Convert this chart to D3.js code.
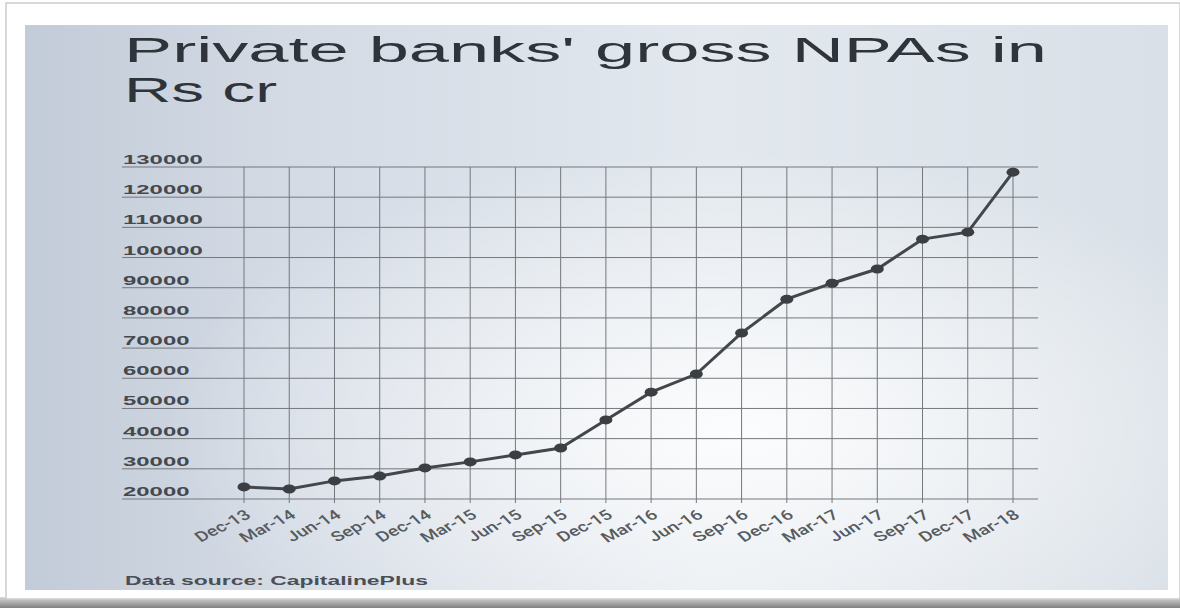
<!DOCTYPE html>
<html>
<head>
<meta charset="utf-8">
<script src="https://cdn.jsdelivr.net/npm/d3@7"></script>
<style>
  body { margin: 0; background: #fff; }
  svg { display: block; }
</style>
</head>
<body>
<svg id="chart" width="1180" height="608"></svg>
<script>
// quarters and gross NPA values (Rs cr)
var quarters = ["Dec-13", "Mar-14", "Jun-14", "Sep-14", "Dec-14", "Mar-15", "Jun-15", "Sep-15",
                "Dec-15", "Mar-16", "Jun-16", "Sep-16", "Dec-16", "Mar-17", "Jun-17", "Sep-17",
                "Dec-17", "Mar-18"];
var npa = [24000, 23300, 26000, 27600, 30300, 32300, 34600, 36900,
           46200, 55400, 61400, 75000, 86200, 91500, 96200, 106100,
           108400, 128300];
var yTicks = [20000, 30000, 40000, 50000, 60000, 70000, 80000, 90000,
              100000, 110000, 120000, 130000];

var titleLines = ["Private banks' gross NPAs in", "Rs cr"];
var source = "Data source: CapitalinePlus";

var svg = d3.select("#chart");
var defs = svg.append("defs");

// photo background
var lg = defs.append("linearGradient").attr("id", "bg").attr("x1", 0).attr("x2", 1).attr("y1", 0).attr("y2", 0);
lg.append("stop").attr("offset", "0%").attr("stop-color", "#c2cbd8");
lg.append("stop").attr("offset", "22%").attr("stop-color", "#d3dae4");
lg.append("stop").attr("offset", "60%").attr("stop-color", "#e2e8ee");
lg.append("stop").attr("offset", "100%").attr("stop-color", "#d9e0e7");
var rg = defs.append("radialGradient").attr("id", "glow").attr("cx", 0.62).attr("cy", 0.72).attr("r", 0.5);
rg.append("stop").attr("offset", "0%").attr("stop-color", "#ffffff").attr("stop-opacity", 0.9);
rg.append("stop").attr("offset", "100%").attr("stop-color", "#ffffff").attr("stop-opacity", 0);
var sh = defs.append("linearGradient").attr("id", "shadow").attr("x1", 0).attr("x2", 0).attr("y1", 0).attr("y2", 1);
sh.append("stop").attr("offset", "0%").attr("stop-color", "#d8d8d8");
sh.append("stop").attr("offset", "100%").attr("stop-color", "#808080");

// card frame
svg.append("rect").attr("x", 0).attr("y", 597).attr("width", 1180).attr("height", 11).attr("fill", "url(#shadow)");
svg.append("rect").attr("x", 6).attr("y", 3).attr("width", 1174).attr("height", 596)
    .attr("fill", "#fff").attr("stroke", "#cccccc").attr("stroke-width", 1.5);
svg.append("rect").attr("x", 25).attr("y", 25).attr("width", 1143).attr("height", 565).attr("fill", "url(#bg)");
svg.append("rect").attr("x", 25).attr("y", 25).attr("width", 1143).attr("height", 565).attr("fill", "url(#glow)");

// title
svg.selectAll(".title")
    .data(titleLines)
    .enter()
    .append("text")
    .attr("x", 124)
    .attr("y", (d, i) => i == 0 ? 62 : 101.5)
    .attr("textLength", (d, i) => i == 0 ? 923 : 153)
    .attr("lengthAdjust", "spacingAndGlyphs")
    .attr("font-family", "'Liberation Sans', Arial, sans-serif")
    .attr("font-size", 35)
    .attr("fill", "#2f343a")
    .text(d => d);

var x = d3.scalePoint().domain(quarters).range([244, 1013]);
var y = d3.scaleLinear().domain([20000, 130000]).range([499, 167]);

// grid
svg.append("g")
    .selectAll("line")
    .data(yTicks)
    .enter()
    .append("line")
    .attr("x1", 122).attr("x2", 1038)
    .attr("y1", d => y(d)).attr("y2", d => y(d))
    .attr("stroke", "#74787d").attr("stroke-width", 1);

svg.append("g")
    .selectAll("line")
    .data(quarters)
    .enter()
    .append("line")
    .attr("x1", d => x(d)).attr("x2", d => x(d))
    .attr("y1", y(130000)).attr("y2", y(20000) + 4)
    .attr("stroke", "#74787d").attr("stroke-width", 1);

// y labels
svg.append("g")
    .selectAll("text")
    .data(yTicks)
    .enter()
    .append("text")
    .attr("x", 123)
    .attr("y", d => y(d) - 3)
    .attr("textLength", d => String(d).length * 13.3)
    .attr("lengthAdjust", "spacingAndGlyphs")
    .attr("font-family", "'Liberation Sans', Arial, sans-serif")
    .attr("font-weight", "bold")
    .attr("font-size", 13)
    .attr("fill", "#45494e")
    .text(d => d);

// x labels
svg.append("g")
    .selectAll("text")
    .data(quarters)
    .enter()
    .append("text")
    .attr("transform", d => "translate(" + (x(d) + 8) + "," + 517 + ") scale(1.4,1) rotate(-35)")
    .attr("text-anchor", "end")
    .attr("font-family", "Roboto, 'Liberation Sans', sans-serif")
    .attr("font-weight", 500)
    .attr("font-size", 14)
    .attr("fill", "#565b60")
    .text(d => d);

// series
var line = d3.line()
    .x((d, i) => x(quarters[i]))
    .y(d => y(d));

svg.append("path")
    .datum(npa)
    .attr("d", line)
    .attr("fill", "none")
    .attr("stroke", "#43474b")
    .attr("stroke-width", 3);

svg.append("g")
    .selectAll("ellipse")
    .data(npa)
    .enter()
    .append("ellipse")
    .attr("cx", (d, i) => x(quarters[i]))
    .attr("cy", d => y(d))
    .attr("rx", 6.5)
    .attr("ry", 4.5)
    .attr("fill", "#3b3e42");

// source
svg.append("text")
    .attr("x", 125)
    .attr("y", 585)
    .attr("textLength", 303)
    .attr("lengthAdjust", "spacingAndGlyphs")
    .attr("font-family", "'Liberation Sans', Arial, sans-serif")
    .attr("font-weight", "bold")
    .attr("font-size", 12)
    .attr("fill", "#4a4f55")
    .text(source);
</script>
</body>
</html>
